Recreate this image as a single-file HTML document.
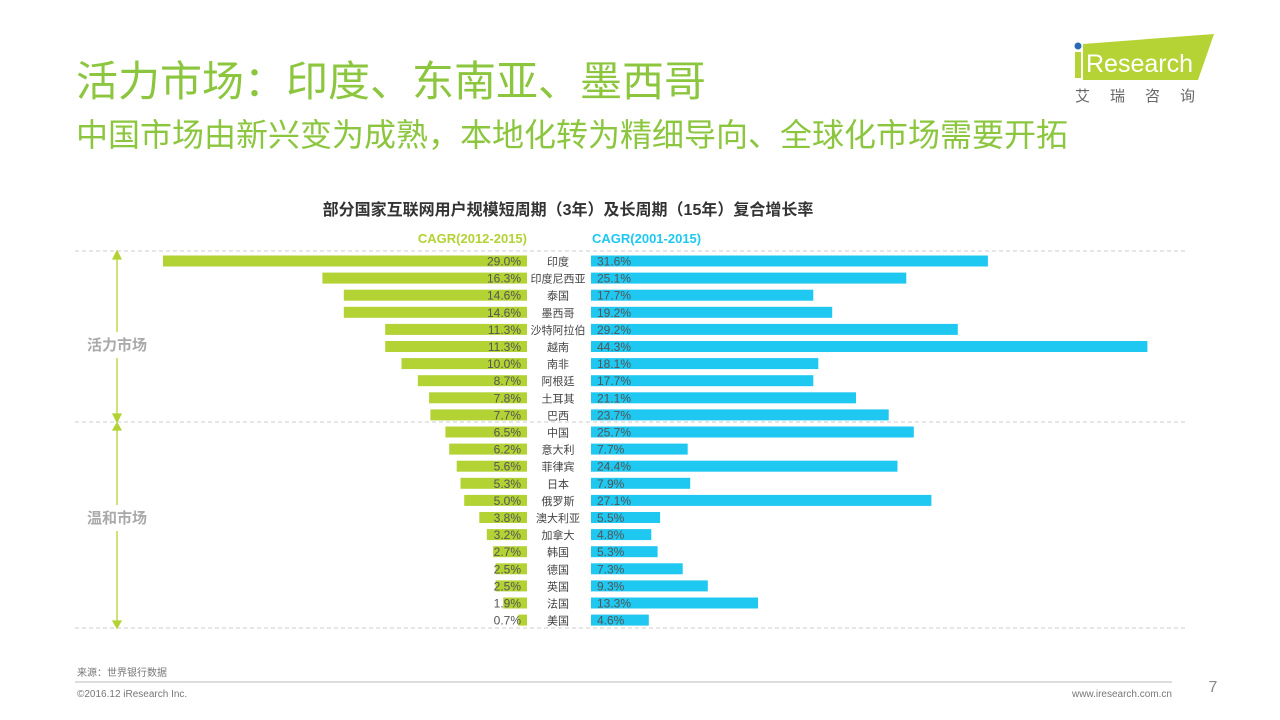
<!DOCTYPE html>
<html><head><meta charset="utf-8"><style>
body{margin:0;background:#fff;}
svg{display:block;font-family:"Liberation Sans","Noto Sans CJK SC",sans-serif;}
</style></head><body>
<svg width="1280" height="720" xmlns="http://www.w3.org/2000/svg">
<text x="76" y="96" font-size="42" fill="#8cc63f">活力市场：印度、东南亚、墨西哥</text>
<text x="76" y="146" font-size="32" fill="#8cc63f">中国市场由新兴变为成熟，本地化转为精细导向、全球化市场需要开拓</text>
<polygon points="1083,44 1214,34 1198,80 1083,80" fill="#b5d334"/>
<circle cx="1078" cy="46" r="3.5" fill="#2a6ab5"/>
<rect x="1075" y="52" width="6" height="26" fill="#b5d334"/>
<text x="1086" y="72" font-size="25" fill="#fff">Research</text>
<text x="1075" y="101" font-size="15" fill="#666" letter-spacing="20">艾瑞咨询</text>
<text x="568" y="215" font-size="16" font-weight="bold" fill="#333" text-anchor="middle">部分国家互联网用户规模短周期（3年）及长周期（15年）复合增长率</text>
<text x="527" y="243" font-size="13" font-weight="bold" fill="#b3d234" text-anchor="end">CAGR(2012-2015)</text>
<text x="592" y="243" font-size="13" font-weight="bold" fill="#1ec8f0">CAGR(2001-2015)</text>
<g stroke="#ccc" stroke-dasharray="4,3"><line x1="75" y1="251" x2="1188" y2="251"/><line x1="75" y1="422" x2="1188" y2="422"/><line x1="75" y1="628" x2="1188" y2="628"/></g>
<g stroke="#b3d234" stroke-width="1.3" fill="#b3d234">
<line x1="117" y1="254" x2="117" y2="419"/><polygon points="113,259 117,251 121,259"/><polygon points="113,414 117,422 121,414"/>
<line x1="117" y1="425" x2="117" y2="625"/><polygon points="113,430 117,423 121,430"/><polygon points="113,621 117,628 121,621"/>
</g>
<rect x="80" y="332" width="75" height="26" fill="#fff"/><text x="117" y="350" font-size="15" font-weight="bold" fill="#aaa" text-anchor="middle">活力市场</text>
<rect x="80" y="505" width="75" height="26" fill="#fff"/><text x="117" y="523" font-size="15" font-weight="bold" fill="#aaa" text-anchor="middle">温和市场</text>
<g fill="#b3d234">
<rect x="163" y="255.5" width="364" height="11"/><rect x="322.4" y="272.6" width="204.6" height="11"/><rect x="343.8" y="289.7" width="183.2" height="11"/><rect x="343.8" y="306.8" width="183.2" height="11"/><rect x="385.2" y="323.9" width="141.8" height="11"/><rect x="385.2" y="341" width="141.8" height="11"/><rect x="401.5" y="358.1" width="125.5" height="11"/><rect x="417.8" y="375.2" width="109.2" height="11"/><rect x="429.1" y="392.3" width="97.9" height="11"/><rect x="430.4" y="409.4" width="96.6" height="11"/><rect x="445.4" y="426.5" width="81.6" height="11"/><rect x="449.2" y="443.6" width="77.8" height="11"/><rect x="456.7" y="460.7" width="70.3" height="11"/><rect x="460.5" y="477.8" width="66.5" height="11"/><rect x="464.2" y="494.9" width="62.8" height="11"/><rect x="479.3" y="512" width="47.7" height="11"/><rect x="486.8" y="529.1" width="40.2" height="11"/><rect x="493.1" y="546.2" width="33.9" height="11"/><rect x="495.6" y="563.3" width="31.4" height="11"/><rect x="495.6" y="580.4" width="31.4" height="11"/><rect x="503.2" y="597.5" width="23.8" height="11"/><rect x="518.2" y="614.6" width="8.8" height="11"/>
</g>
<g fill="#1ec8f0">
<rect x="591" y="255.5" width="396.9" height="11"/><rect x="591" y="272.6" width="315.3" height="11"/><rect x="591" y="289.7" width="222.3" height="11"/><rect x="591" y="306.8" width="241.2" height="11"/><rect x="591" y="323.9" width="366.8" height="11"/><rect x="591" y="341" width="556.4" height="11"/><rect x="591" y="358.1" width="227.3" height="11"/><rect x="591" y="375.2" width="222.3" height="11"/><rect x="591" y="392.3" width="265" height="11"/><rect x="591" y="409.4" width="297.7" height="11"/><rect x="591" y="426.5" width="322.8" height="11"/><rect x="591" y="443.6" width="96.7" height="11"/><rect x="591" y="460.7" width="306.5" height="11"/><rect x="591" y="477.8" width="99.2" height="11"/><rect x="591" y="494.9" width="340.4" height="11"/><rect x="591" y="512" width="69.1" height="11"/><rect x="591" y="529.1" width="60.3" height="11"/><rect x="591" y="546.2" width="66.6" height="11"/><rect x="591" y="563.3" width="91.7" height="11"/><rect x="591" y="580.4" width="116.8" height="11"/><rect x="591" y="597.5" width="167" height="11"/><rect x="591" y="614.6" width="57.8" height="11"/>
</g>
<g font-size="12" fill="#555" text-anchor="end">
<text x="521" y="265.5">29.0%</text><text x="521" y="282.6">16.3%</text><text x="521" y="299.7">14.6%</text><text x="521" y="316.8">14.6%</text><text x="521" y="333.9">11.3%</text><text x="521" y="351">11.3%</text><text x="521" y="368.1">10.0%</text><text x="521" y="385.2">8.7%</text><text x="521" y="402.3">7.8%</text><text x="521" y="419.4">7.7%</text><text x="521" y="436.5">6.5%</text><text x="521" y="453.6">6.2%</text><text x="521" y="470.7">5.6%</text><text x="521" y="487.8">5.3%</text><text x="521" y="504.9">5.0%</text><text x="521" y="522">3.8%</text><text x="521" y="539.1">3.2%</text><text x="521" y="556.2">2.7%</text><text x="521" y="573.3">2.5%</text><text x="521" y="590.4">2.5%</text><text x="521" y="607.5">1.9%</text><text x="521" y="624.6">0.7%</text>
</g>
<g font-size="11" fill="#444" text-anchor="middle">
<text x="558" y="265.5">印度</text><text x="558" y="282.6">印度尼西亚</text><text x="558" y="299.7">泰国</text><text x="558" y="316.8">墨西哥</text><text x="558" y="333.9">沙特阿拉伯</text><text x="558" y="351">越南</text><text x="558" y="368.1">南非</text><text x="558" y="385.2">阿根廷</text><text x="558" y="402.3">土耳其</text><text x="558" y="419.4">巴西</text><text x="558" y="436.5">中国</text><text x="558" y="453.6">意大利</text><text x="558" y="470.7">菲律宾</text><text x="558" y="487.8">日本</text><text x="558" y="504.9">俄罗斯</text><text x="558" y="522">澳大利亚</text><text x="558" y="539.1">加拿大</text><text x="558" y="556.2">韩国</text><text x="558" y="573.3">德国</text><text x="558" y="590.4">英国</text><text x="558" y="607.5">法国</text><text x="558" y="624.6">美国</text>
</g>
<g font-size="12" fill="#555">
<text x="597" y="265.5">31.6%</text><text x="597" y="282.6">25.1%</text><text x="597" y="299.7">17.7%</text><text x="597" y="316.8">19.2%</text><text x="597" y="333.9">29.2%</text><text x="597" y="351">44.3%</text><text x="597" y="368.1">18.1%</text><text x="597" y="385.2">17.7%</text><text x="597" y="402.3">21.1%</text><text x="597" y="419.4">23.7%</text><text x="597" y="436.5">25.7%</text><text x="597" y="453.6">7.7%</text><text x="597" y="470.7">24.4%</text><text x="597" y="487.8">7.9%</text><text x="597" y="504.9">27.1%</text><text x="597" y="522">5.5%</text><text x="597" y="539.1">4.8%</text><text x="597" y="556.2">5.3%</text><text x="597" y="573.3">7.3%</text><text x="597" y="590.4">9.3%</text><text x="597" y="607.5">13.3%</text><text x="597" y="624.6">4.6%</text>
</g>
<text x="77" y="676" font-size="10" fill="#777">来源：世界银行数据</text>
<line x1="75" y1="682" x2="1172" y2="682" stroke="#bbb"/>
<text x="77" y="697" font-size="10" fill="#777">©2016.12 iResearch Inc.</text>
<text x="1172" y="697" font-size="10" fill="#777" text-anchor="end">www.iresearch.com.cn</text>
<text x="1213" y="692" font-size="16" fill="#888" text-anchor="middle">7</text>
</svg>
</body></html>
